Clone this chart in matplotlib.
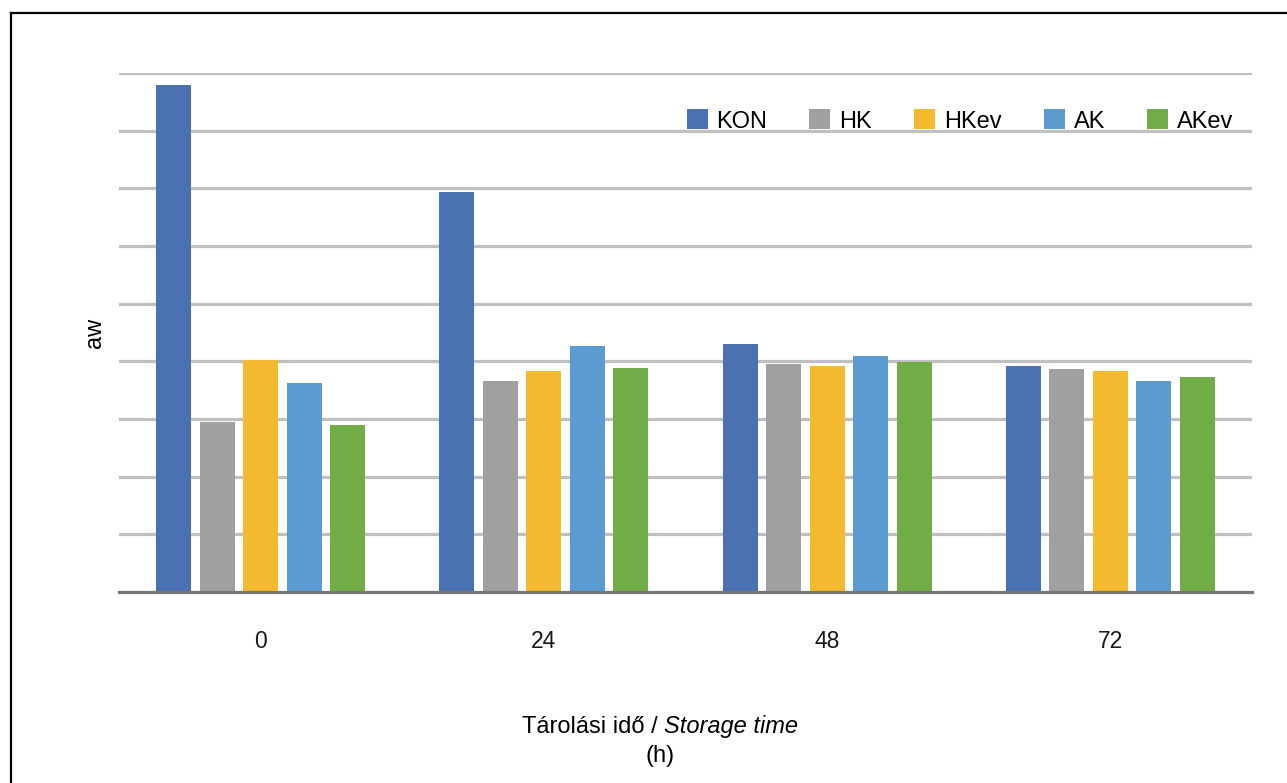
import matplotlib.pyplot as plt
import numpy as np
from matplotlib.offsetbox import TextArea, HPacker, VPacker, AnchoredOffsetbox
from matplotlib.lines import Line2D

plt.rcParams['font.family'] = ['Liberation Sans', 'DejaVu Sans']

# storage time groups and water activity per treatment (relative units)
times = ['0', '24', '48', '72']
series = ['KON', 'HK', 'HKev', 'AK', 'AKev']
kon = [8.79, 6.94, 4.30, 3.92]
hk = [2.95, 3.66, 3.95, 3.87]
hkev = [4.02, 3.83, 3.92, 3.83]
ak = [3.62, 4.27, 4.09, 3.66]
akev = [2.90, 3.88, 3.99, 3.73]

colors = ['#4a71b0', '#a0a0a0', '#f3b92f', '#5c9bd0', '#70ad47']

fig = plt.figure(figsize=(12.87, 7.83), dpi=100)
ax = fig.add_axes([119/1287, 1 - 592/783, (1252 - 119)/1287, (592 - 73)/783])

x = np.arange(len(times))
width = 0.123
step = 0.1536
for i, (name, vals) in enumerate(zip(series, [kon, hk, hkev, ak, akev])):
    ax.bar(x + (i - 2) * step, vals, width, color=colors[i], label=name, zorder=3)

ax.set_xlim(-0.5, 3.5)
ax.set_ylim(0, 9)
ax.set_yticks(np.arange(1, 10))
ax.yaxis.grid(True, color='#c0c0c0', linewidth=2.3, zorder=0)
ax.tick_params(axis='y', left=False, labelleft=False)
ax.set_xticks(x)
ax.set_xticklabels(times, fontsize=16.5)
ax.tick_params(axis='x', length=0, pad=27, colors='#1a1a1a')

for side in ['top', 'right', 'left']:
    ax.spines[side].set_visible(False)
ax.spines['bottom'].set_color('#777777')
ax.spines['bottom'].set_linewidth(2.3)
ax.spines['bottom'].set_zorder(4)

ax.set_ylabel('aw', fontsize=17, labelpad=9)

ax.legend(ncol=5, frameon=False, loc='center', fontsize=17,
          bbox_to_anchor=(960/1287, 1 - 121/783), bbox_transform=fig.transFigure,
          handlelength=0.89, handleheight=0.93, handletextpad=0.38,
          columnspacing=1.78)

# axis title with the English part in italics
line1 = HPacker(children=[TextArea('Tárolási idő / ', textprops=dict(fontsize=17)),
                          TextArea('Storage time', textprops=dict(fontsize=17, style='italic'))],
                align='baseline', pad=0, sep=0)
line2 = TextArea('(h)', textprops=dict(fontsize=17))
title = VPacker(children=[line1, line2], align='center', pad=0, sep=5)
box = AnchoredOffsetbox(loc='center', child=title, frameon=False, pad=0,
                        bbox_to_anchor=(660/1287, 1 - 741/783),
                        bbox_transform=fig.transFigure)
fig.add_artist(box)

# outer frame
fig.add_artist(Line2D([11/1287, 1], [1 - 13/783, 1 - 13/783], color='black', linewidth=1.6,
                      transform=fig.transFigure))
fig.add_artist(Line2D([11/1287, 11/1287], [0, 1 - 13/783], color='black', linewidth=1.6,
                      transform=fig.transFigure))

fig.savefig('out.png', dpi=100)
